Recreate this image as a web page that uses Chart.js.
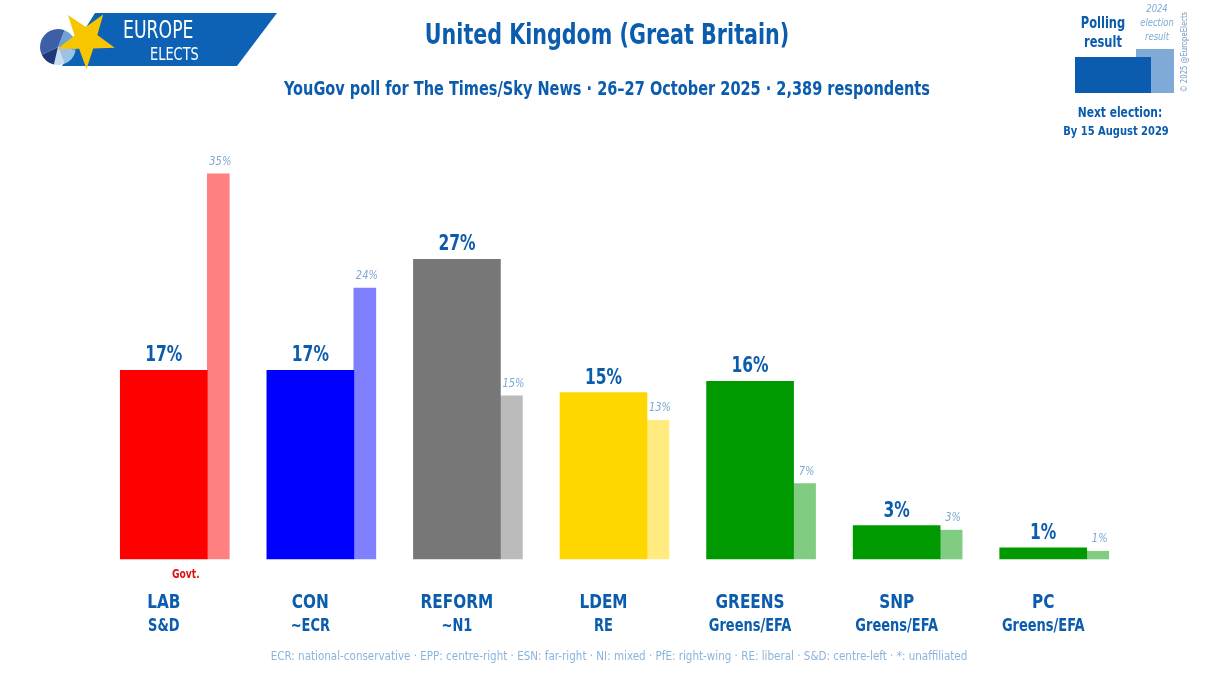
<!DOCTYPE html>
<html>
<head>
<meta charset="utf-8">
<script src="https://cdn.jsdelivr.net/npm/chart.js@4"></script>
<style>
  html, body { margin: 0; padding: 0; background: #fff; }
  #wrap { width: 1215px; height: 700px; position: relative; }
</style>
</head>
<body>
<div id="wrap"><canvas id="poll" width="1215" height="700"></canvas></div>
<script>
const parties = ['LAB', 'CON', 'REFORM', 'LDEM', 'GREENS', 'SNP', 'PC'];
const groups = ['S&D', '~ECR', '~N1', 'RE', 'Greens/EFA', 'Greens/EFA', 'Greens/EFA'];
const govt = [true, false, false, false, false, false, false];
const pollValues = [17, 17, 27, 15, 16, 3, 1];
const electionValues = [34.7, 24.4, 14.7, 12.5, 6.8, 2.6, 0.7];
const pollColors = ['#ff0000', '#0000ff', '#777777', '#ffd700', '#009900', '#009900', '#009900'];
const electionColors = ['#ff8080', '#8080ff', '#bbbbbb', '#ffeb80', '#80cc80', '#80cc80', '#80cc80'];

const FONT = "'DejaVu Sans Condensed', 'Roboto', sans-serif";
const BLUE = '#0b5cad';
const LIGHT = '#7fa9d6';

// draws text, squeezed sideways a little so DejaVu looks closer to the narrow original
function txt(ctx, s, x, y, font, color, align, sx) {
    ctx.save();
    ctx.font = font;
    ctx.fillStyle = color;
    ctx.textAlign = align || 'center';
    ctx.textBaseline = 'alphabetic';
    ctx.translate(x, y);
    ctx.scale(sx || 0.85, 1);
    ctx.fillText(s, 0, 0);
    ctx.restore();
}

const decor = {
    id: 'decor',
    beforeDraw(chart) {
        const ctx = chart.ctx;
        ctx.save();
        // logo banner
        ctx.fillStyle = '#0d62b5';
        ctx.beginPath();
        ctx.moveTo(95, 13); ctx.lineTo(277, 13); ctx.lineTo(237, 66); ctx.lineTo(62, 66);
        ctx.closePath(); ctx.fill();
        // little pie
        const pie = ['#6fa3d6', '#9cc2e6', '#c9ddf0', '#1e3a7a', '#3d5fa8'];
        const cuts = [0, 1.4, 2.4, 3.0, 3.9, 6.2832];
        for (let k = 0; k < pie.length; k++) {
            ctx.fillStyle = pie[k];
            ctx.beginPath();
            ctx.moveTo(58, 47);
            ctx.arc(58, 47, 18, cuts[k] - 1.2, cuts[k + 1] - 1.2);
            ctx.closePath(); ctx.fill();
        }
        // star
        ctx.fillStyle = '#f7c600';
        ctx.beginPath();
        for (let k = 0; k < 10; k++) {
            const a = (-55 + k * 36) * Math.PI / 180;
            const r = k % 2 === 0 ? 30 : 12;
            const px = 86 + r * Math.cos(a), py = 39 + r * Math.sin(a);
            k === 0 ? ctx.moveTo(px, py) : ctx.lineTo(px, py);
        }
        ctx.closePath(); ctx.fill();
        txt(ctx, 'EUROPE', 123, 38, "24px " + FONT, '#ffffff', 'left', 0.8);
        txt(ctx, 'ELECTS', 150, 60, "18px " + FONT, '#ffffff', 'left', 0.8);

        // titles
        txt(ctx, 'United Kingdom (Great Britain)', 607, 44, "bold 28px " + FONT, BLUE, 'center', 0.82);
        txt(ctx, 'YouGov poll for The Times/Sky News · 26–27 October 2025 · 2,389 respondents', 607, 95, "bold 19px " + FONT, BLUE, 'center', 0.85);

        // legend box
        ctx.fillStyle = LIGHT;
        ctx.fillRect(1136, 49, 38, 44);
        ctx.fillStyle = '#0b5cae';
        ctx.fillRect(1075, 57, 76, 36);
        txt(ctx, 'Polling', 1103, 28, "bold 15px " + FONT, BLUE);
        txt(ctx, 'result', 1103, 47, "bold 15px " + FONT, BLUE);
        txt(ctx, '2024', 1157, 12, "italic 11px " + FONT, LIGHT);
        txt(ctx, 'election', 1157, 26, "italic 11px " + FONT, LIGHT);
        txt(ctx, 'result', 1157, 40, "italic 11px " + FONT, LIGHT);
        txt(ctx, 'Next election:', 1120, 117, "bold 14px " + FONT, BLUE);
        txt(ctx, 'By 15 August 2029', 1116, 135, "bold 13px " + FONT, BLUE);
        ctx.save();
        ctx.translate(1187, 52);
        ctx.rotate(-Math.PI / 2);
        txt(ctx, '© 2025 @EuropeElects', 0, 0, "9px " + FONT, '#6f93bf');
        ctx.restore();

        // footnote
        txt(ctx, 'ECR: national-conservative · EPP: centre-right · ESN: far-right · NI: mixed · PfE: right-wing · RE: liberal · S&D: centre-left · *: unaffiliated',
            619, 660, "12px " + FONT, '#8ab4dc', 'center', 0.96);
        ctx.restore();
    },
    afterDatasetsDraw(chart) {
        const ctx = chart.ctx;
        const pollMeta = chart.getDatasetMeta(0);
        const elecMeta = chart.getDatasetMeta(1);
        pollMeta.data.forEach((bar, i) => {
            txt(ctx, pollValues[i] + '%', bar.x, bar.y - 9, "bold 21px " + FONT, BLUE, 'center', 0.82);
            txt(ctx, parties[i], bar.x, 608, "bold 20px " + FONT, BLUE, 'center', 0.85);
            txt(ctx, groups[i], bar.x, 631, "bold 17px " + FONT, BLUE, 'center', 0.85);
            if (govt[i]) txt(ctx, 'Govt.', bar.x + 22, 578, "bold 12px " + FONT, '#dd1111');
        });
        elecMeta.data.forEach((bar, i) => {
            txt(ctx, Math.round(electionValues[i]) + '%', bar.x + 2, bar.y - 9, "italic 13px " + FONT, LIGHT);
        });
    }
};

new Chart(document.getElementById('poll'), {
    type: 'bar',
    data: {
        labels: parties,
        datasets: [
            { label: 'Polling result', data: pollValues, backgroundColor: pollColors, barThickness: 87, clip: false },
            { label: '2024 election result', data: electionValues, backgroundColor: electionColors, barThickness: 22, clip: false }
        ]
    },
    options: {
        responsive: false,
        animation: false,
        devicePixelRatio: 1,
        layout: { padding: { left: 134, right: 55, top: 115, bottom: 141 } },
        scales: {
            x: { display: false, grid: { display: false } },
            y: { display: false, min: 0, max: 40 }
        },
        plugins: { legend: { display: false }, tooltip: { enabled: false } }
    },
    plugins: [decor]
});
</script>
</body>
</html>
